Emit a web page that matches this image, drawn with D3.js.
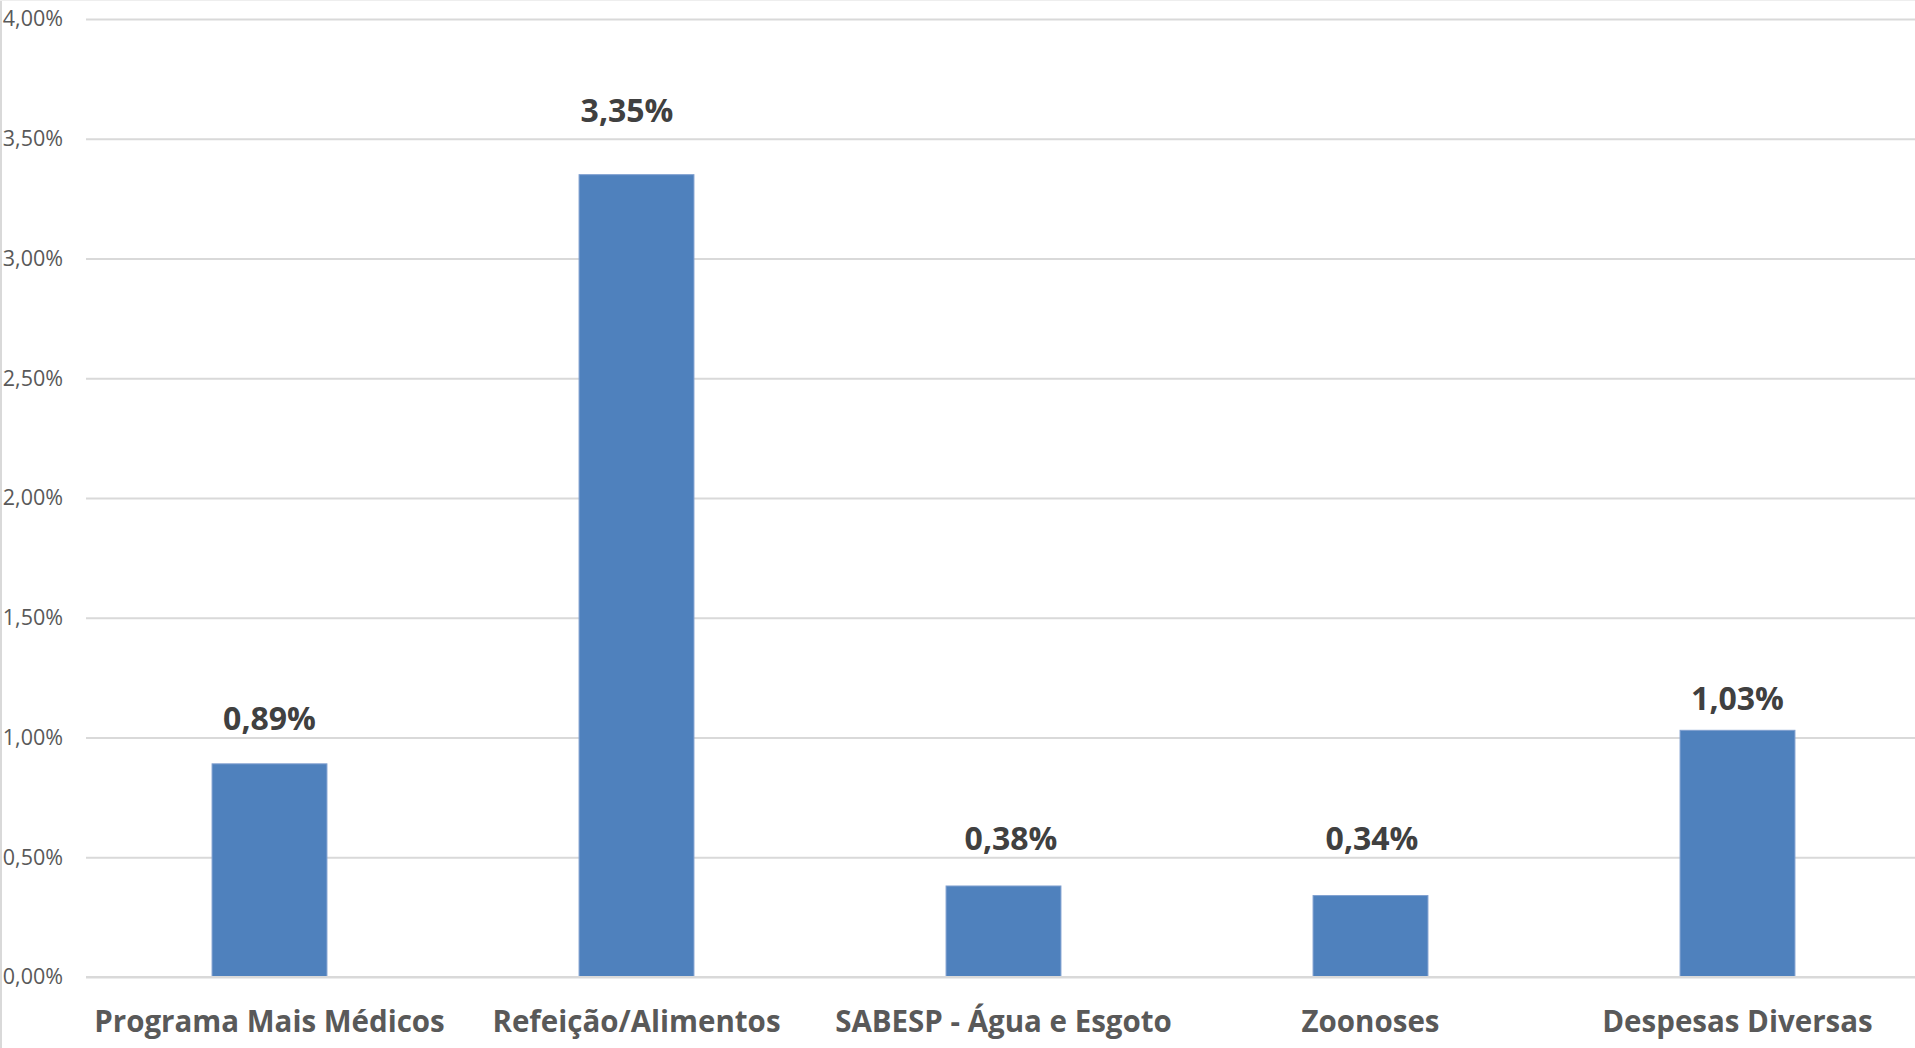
<!DOCTYPE html>
<html>
<head>
<meta charset="utf-8">
<script src="https://cdn.jsdelivr.net/npm/d3@7"></script>
<style>
  html, body { margin: 0; padding: 0; background: #fff; overflow: hidden; }
  svg { display: block; }
</style>
</head>
<body>
<svg id="chart" width="1915" height="1048"></svg>
<script>
// ---- data ----
const categories = ["Programa Mais Médicos", "Refeição/Alimentos", "SABESP - Água e Esgoto", "Zoonoses", "Despesas Diversas"];
const values = [0.89, 3.35, 0.38, 0.34, 1.03];
const tickValues = [0, 0.5, 1, 1.5, 2, 2.5, 3, 3.5, 4];
const tickLabels = ["0,00%", "0,50%", "1,00%", "1,50%", "2,00%", "2,50%", "3,00%", "3,50%", "4,00%"];
const valueLabels = ["0,89%", "3,35%", "0,38%", "0,34%", "1,03%"];

// ---- layout (manual label nudges as in the original) ----
const labelNudgeX = [0, -9.5, 7.5, 1.5, 0];
const labelNudgeY = [-34, -53, -36, -46, -20];

const W = 1915, H = 1048;
const plot = { left: 86, right: 1921, top: 19, bottom: 977 };

const svg = d3.select("#chart");

// chart-area border (left / top)
svg.append("line").attr("x1", 1).attr("x2", 1).attr("y1", 0).attr("y2", H)
  .attr("stroke", "#d9d9d9").attr("stroke-width", 2);
svg.append("line").attr("x1", 0).attr("x2", W).attr("y1", 0.5).attr("y2", 0.5)
  .attr("stroke", "#eeeeee").attr("stroke-width", 1);

const x = d3.scaleBand().domain(categories)
  .range([plot.left, plot.right]).paddingInner(0.687).paddingOuter(0.3435);
const y = d3.scaleLinear().domain([0, 4]).range([plot.bottom, plot.top]);

// gridlines + y tick labels via axis
const yAxis = d3.axisLeft(y)
  .tickValues(tickValues)
  .tickFormat((d, i) => tickLabels[i])
  .tickSize(-(plot.right - plot.left))
  .tickPadding(23);

const gy = svg.append("g").attr("transform", `translate(${plot.left},0)`).call(yAxis);
gy.select(".domain").remove();
gy.selectAll(".tick line").attr("stroke", "#d9d9d9").attr("stroke-width", 2);
gy.selectAll(".tick text")
  .attr("fill", "#595959")
  .style("font-family", "'Open Sans', sans-serif")
  .style("font-size", "21.5px");

// bars
svg.append("g").selectAll("rect").data(values).join("rect")
  .attr("x", (d, i) => x(categories[i]))
  .attr("y", d => y(d))
  .attr("width", x.bandwidth())
  .attr("height", d => y(0) - y(d))
  .attr("fill", "#4f81bd")
  .attr("stroke", "#7f9fcf")
  .attr("stroke-width", 1);

// baseline axis line
svg.append("line").attr("x1", plot.left).attr("x2", plot.right)
  .attr("y1", y(0)).attr("y2", y(0))
  .attr("stroke", "#d9d9d9").attr("stroke-width", 2);

// value labels
svg.append("g").selectAll("text").data(values).join("text")
  .attr("x", (d, i) => x(categories[i]) + x.bandwidth() / 2 + labelNudgeX[i])
  .attr("y", (d, i) => y(d) + labelNudgeY[i])
  .attr("text-anchor", "middle")
  .attr("fill", "#404040")
  .style("font-family", "'Open Sans', sans-serif")
  .style("font-weight", "bold")
  .style("font-size", "32px")
  .text((d, i) => valueLabels[i]);

// category labels via bottom axis
const xAxis = d3.axisBottom(x).tickSize(0).tickPadding(0);
const gx = svg.append("g").attr("transform", `translate(0,${plot.bottom})`).call(xAxis);
gx.select(".domain").remove();
gx.selectAll(".tick text")
  .attr("dy", null)
  .attr("y", 55)
  .attr("fill", "#595959")
  .style("font-family", "'Open Sans', sans-serif")
  .style("font-weight", "bold")
  .style("font-size", "29.5px");
</script>
</body>
</html>
